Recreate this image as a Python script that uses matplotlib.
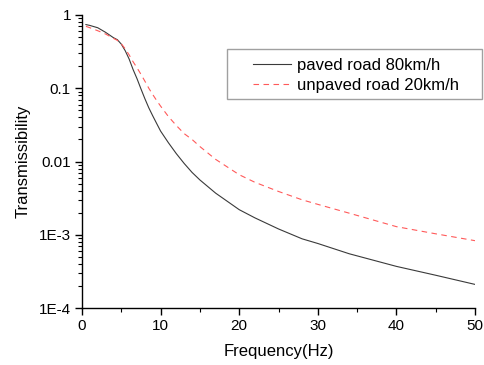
import numpy as np
import matplotlib
matplotlib.use('Agg')
import matplotlib.pyplot as plt
import matplotlib.ticker as mticker
from matplotlib.patches import Rectangle

plt.rcParams['font.family'] = ['Liberation Sans', 'DejaVu Sans']

freq = [0.5, 1, 2, 3, 4, 4.5, 5, 5.5, 6, 6.5, 7, 7.5, 8, 8.5, 9, 9.5, 10, 11, 12, 13, 14, 15,
        17, 20, 22, 25, 28, 30, 34, 40, 45, 50]
paved = [0.74, 0.72, 0.67, 0.58, 0.49, 0.46, 0.40, 0.325, 0.25, 0.18, 0.135, 0.098, 0.072,
         0.054, 0.042, 0.033, 0.026, 0.018, 0.0128, 0.0094, 0.0071, 0.0056, 0.0037, 0.0022,
         0.0017, 0.0012, 0.00088, 0.00076, 0.00055, 0.00037, 0.00028, 0.00021]
unpaved = [0.70, 0.67, 0.61, 0.55, 0.48, 0.45, 0.405, 0.345, 0.285, 0.23, 0.19, 0.155, 0.125,
           0.10, 0.082, 0.068, 0.057, 0.041, 0.031, 0.024, 0.020, 0.016, 0.0107, 0.0066,
           0.0052, 0.0039, 0.0030, 0.0026, 0.00197, 0.00129, 0.00103, 0.00083]
ytick_vals = [1, 0.1, 0.01, 1e-3, 1e-4]
ytick_labels = ['1', '0.1', '0.01', '1E-3', '1E-4']

fig = plt.figure(figsize=(4.84, 3.65), dpi=100)
ax = fig.add_axes([82/484, 1 - 308/365, (475 - 82)/484, (308 - 15)/365])

ax.plot(freq, paved, color='#3a3a3a', lw=0.8, label='paved road 80km/h')
ax.plot(freq, unpaved, color='#ff5a5a', lw=0.8, ls=(0, (5, 4)), label='unpaved road 20km/h')

ax.set_yscale('log')
ax.set_xlim(0, 50)
ax.set_ylim(1e-4, 1)
ax.set_yticks(ytick_vals)
ax.set_yticklabels(ytick_labels)
ax.yaxis.set_minor_locator(mticker.LogLocator(base=10, subs=np.arange(2, 10)))
ax.yaxis.set_minor_formatter(mticker.NullFormatter())
ax.set_xticks([0, 10, 20, 30, 40, 50])
ax.xaxis.set_minor_locator(mticker.MultipleLocator(5))

for s in ['top', 'right']:
    ax.spines[s].set_visible(False)
for s in ['left', 'bottom']:
    ax.spines[s].set_linewidth(1.0)
ax.tick_params(which='major', direction='out', length=5, width=1.0, labelsize=11, pad=3)
ax.tick_params(which='minor', direction='out', length=3, width=0.8)

ax.set_xlabel('Frequency(Hz)', fontsize=12, labelpad=8)
ax.set_ylabel('Transmissibility', fontsize=12, labelpad=6)

# legend box is wider than the entries, so draw the frame separately
frame = Rectangle((227/484, 1 - 99/365), (482 - 227)/484, 50/365,
                  transform=fig.transFigure, facecolor='white',
                  edgecolor='#a0a0a0', lw=1.0, zorder=4.5, clip_on=False)
ax.add_patch(frame)
leg = ax.legend(loc='upper left', bbox_to_anchor=(253/484, 1 - 58/365), bbox_transform=fig.transFigure,
                borderaxespad=0, borderpad=0, fontsize=12, frameon=False,
                handlelength=2.3, handletextpad=0.35, labelspacing=0.32)
leg.set_zorder(6)

fig.savefig('out.png', dpi=100)
